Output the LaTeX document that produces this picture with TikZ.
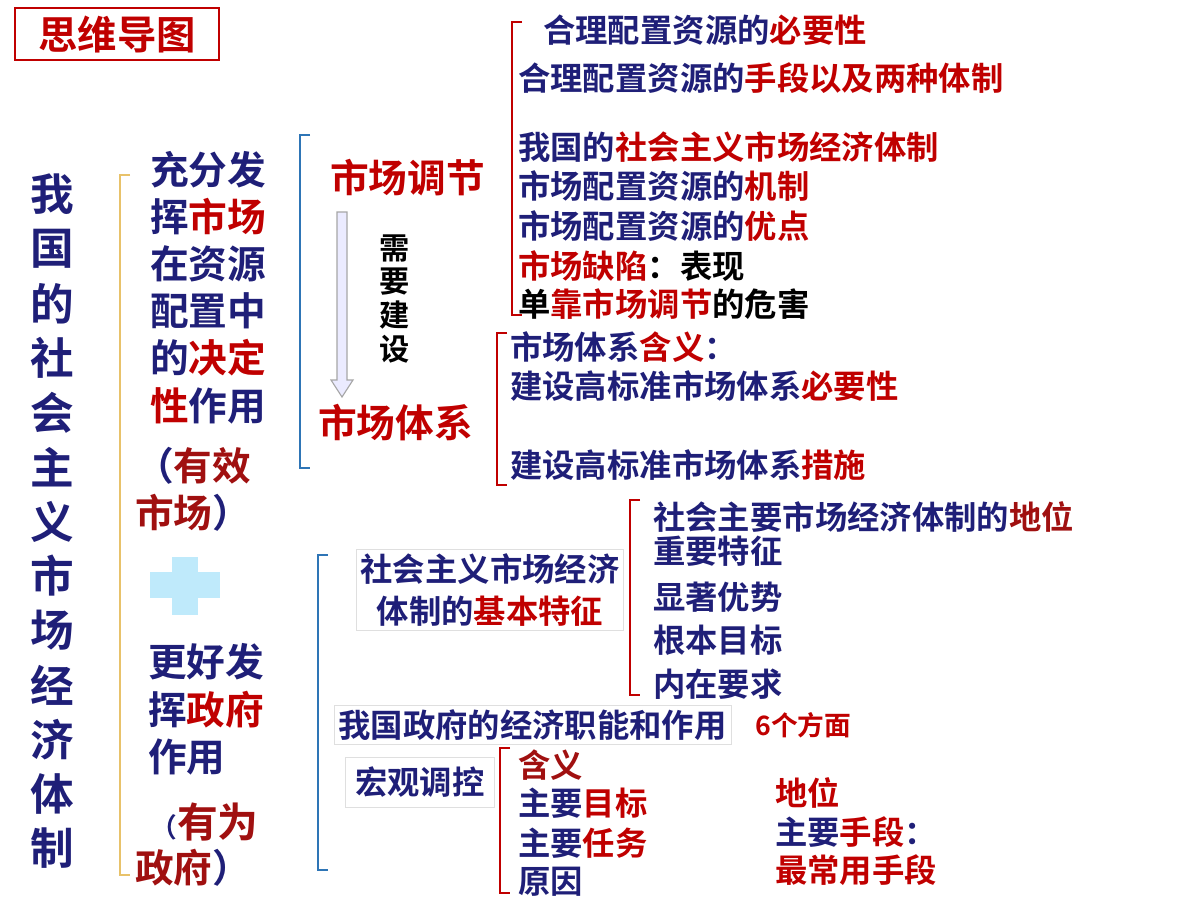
\documentclass[tikz,border=0pt]{standalone}
\usepackage{fontspec}
\setmainfont{Noto Sans CJK SC}[BoldFont={Noto Sans CJK SC Bold}]
\usetikzlibrary{arrows.meta}
\definecolor{navy}{HTML}{1F1F78}
\definecolor{hred}{HTML}{C00000}
\definecolor{dred}{HTML}{A01010}
\definecolor{bblue}{HTML}{2E75B6}
\definecolor{byel}{HTML}{E8C26A}
\newcommand{\R}[1]{\textcolor{hred}{#1}}
\newcommand{\D}[1]{\textcolor{dred}{#1}}
\newcommand{\K}[1]{\textcolor{black}{#1}}
\newcommand{\brk}[4]{\draw[#4, line width=2pt] (#1+10,#2) -- (#1,#2) -- (#1,#3) -- (#1+10,#3);}
\tikzset{
  big/.style={anchor=west, inner sep=0pt, text=navy, font=\bfseries\fontsize{27.5}{30}\selectfont},
  mid/.style={anchor=west, inner sep=0pt, text=navy, font=\bfseries\fontsize{23}{26}\selectfont},
  boxed/.style={draw=gray!25, inner sep=3pt}
}
\begin{document}
\begin{tikzpicture}[x=0.025cm, y=-0.025cm]
  \useasboundingbox (0,0) rectangle (1200,900);
  % title box
  \node[draw=hred, line width=1pt, text=hred, font=\bfseries\fontsize{28}{30}\selectfont,
        minimum width=5.1cm, minimum height=1.3cm] (title) at (117,34) {思维导图};

  % vertical title
  \foreach \c [count=\i] in {我,国,的,社,会,主,义,市,场,经,济,体,制}
    \node[text=navy, font=\bfseries\fontsize{31}{33}\selectfont, inner sep=0pt] (v\i) at (52,140+54.5*\i) {\c};
  \brk{120}{175}{875}{byel}

  % left column
  \node[big] (l1) at (150,170) {充分发};
  \node[big] (l2) at (150,217) {挥\R{市场}};
  \node[big] (l3) at (150,264) {在资源};
  \node[big] (l4) at (150,311) {配置中};
  \node[big] (l5) at (150,358) {的\R{决定}};
  \node[big] (l6) at (150,406) {\R{性}作用};
  \node[big] (l7) at (135,466) {（\D{有效}};
  \node[big] (l8) at (135,513) {\D{市场}）};
  \fill[cyan!25] (150,572) rectangle (220,598);
  \fill[cyan!25] (172,557) rectangle (198,615);
  \node[big] (l9) at (148,662) {更好发};
  \node[big] (l10) at (148,710) {挥\R{政府}};
  \node[big] (l11) at (148,757) {作用};
  \node[big] (l12) at (150,822) {\fontsize{19}{22}\selectfont（\D{\fontsize{29}{32}\selectfont 有为}};
  \node[big] (l13) at (135,868) {\D{政府}）};

  % market regulation
  \brk{300}{135}{468}{bblue}
  \node[big, text=hred] (sctj) at (330,178) {市场调节};
  \node[big, text=hred] (sctx) at (318,423) {市场体系};
  \draw[gray!70, fill=blue!8, line width=0.8pt] (337,212) -- (347,212) -- (347,380) -- (353,380)
    -- (342,397) -- (331,380) -- (337,380) -- cycle;
  \foreach \c [count=\i] in {需,要,建,设}
    \node[inner sep=0pt, font=\bfseries\fontsize{21.5}{24}\selectfont] (x\i) at (395,215+33.5*\i) {\c};

  \brk{512}{22}{315}{hred}
  \node[mid] (a1) at (543,30) {合理配置资源的\R{必要性}};
  \node[mid] (a2) at (518,78) {合理配置资源的\R{手段以及两种体制}};
  \node[mid] (a3) at (518,147) {我国的\R{社会主义市场经济体制}};
  \node[mid] (a4) at (518,186) {市场配置资源的\R{机制}};
  \node[mid] (a5) at (518,226) {市场配置资源的\R{优点}};
  \node[mid] (a6) at (518,266) {\R{市场缺陷}\K{：表现}};
  \node[mid] (a7) at (518,304) {\K{单}\R{靠市场调节}\K{的危害}};

  \brk{497}{333}{485}{hred}
  \node[mid] (b1) at (510,347) {市场体系\R{含义}：};
  \node[mid] (b2) at (510,386) {建设高标准市场体系\R{必要性}};
  \node[mid] (b3) at (510,465) {建设高标准市场体系\R{措施}};

  % socialist market economy
  \brk{318}{555}{870}{bblue}
  \node[boxed, align=center, text=navy, font=\bfseries\fontsize{23}{30}\selectfont] (jbtz) at (490,590)
    {社会主义市场经济\\体制的\R{基本特征}};
  \brk{630}{500}{695}{hred}
  \node[mid] (c1) at (653,517) {社会主要市场经济体制的\D{地位}};
  \node[mid] (c2) at (653,551) {重要特征};
  \node[mid] (c3) at (653,597) {显著优势};
  \node[mid] (c4) at (653,640) {根本目标};
  \node[mid] (c5) at (653,684) {内在要求};
  \node[mid, boxed] (zn) at (334,725) {我国政府的经济职能和作用};
  \node[mid, text=hred, font=\bfseries\fontsize{19}{22}\selectfont] (lg) at (755,725) {6个方面};
  \node[mid, boxed, inner sep=7pt] (hg) at (345,782) {宏观调控};
  \brk{500}{748}{893}{hred}
  \node[mid] (d1) at (518,765) {\D{含义}};
  \node[mid] (d2) at (518,803) {主要\R{目标}};
  \node[mid] (d3) at (518,843) {主要\R{任务}};
  \node[mid] (d4) at (518,882) {原因};
  \node[mid, text=hred] (e1) at (775,793) {地位};
  \node[mid] (e2) at (775,832) {主要\R{手段}：};
  \node[mid, text=hred] (e3) at (775,870) {最常用手段};
\end{tikzpicture}
\end{document}
